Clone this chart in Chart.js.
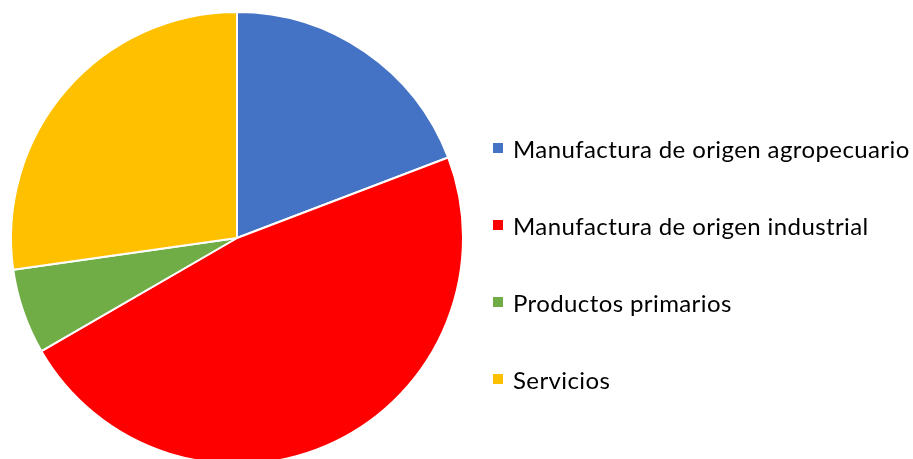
<!DOCTYPE html>
<html>
<head>
<meta charset="utf-8">
<script src="https://cdn.jsdelivr.net/npm/chart.js@4.4.1/dist/chart.umd.min.js"></script>
<style>
  html, body { margin: 0; padding: 0; background: #fff; overflow: hidden; width: 913px; height: 459px; }
  #wrap { position: absolute; left: 0; top: 0; width: 913px; height: 480px; }
  #legend { position: absolute; left: 493px; top: 0; font-family: "Lato", sans-serif; font-size: 24px; letter-spacing: 0.4px; color: #000; }
  .item { position: absolute; left: 0; white-space: nowrap; display: flex; align-items: center; height: 30px; }
  .box { width: 10px; height: 10px; margin-right: 10px; }
</style>
</head>
<body>
<div id="wrap"><canvas id="c" width="913" height="480"></canvas></div>
<div id="legend"></div>
<script>
const categories = [
  "Manufactura de origen agropecuario",
  "Manufactura de origen industrial",
  "Productos primarios",
  "Servicios"
];
const shares = [19.2, 47.45, 6.1, 27.25];
const colors = ["#4472C4", "#FF0000", "#70AD47", "#FFC000"];

new Chart(document.getElementById("c"), {
  type: "pie",
  data: {
    labels: categories,
    datasets: [{
      data: shares,
      backgroundColor: colors,
      borderColor: "#ffffff",
      borderWidth: 2
    }]
  },
  options: {
    responsive: false,
    animation: false,
    devicePixelRatio: 1,
    layout: { padding: { left: 10, top: 11, right: 449, bottom: 15 } },
    plugins: {
      legend: { display: false },
      tooltip: { enabled: false }
    }
  }
});

const legend = document.getElementById("legend");
const rowCenters = [148, 225, 302, 379];
categories.forEach((name, i) => {
  const row = document.createElement("div");
  row.className = "item";
  row.style.top = (rowCenters[i] - 15) + "px";
  const box = document.createElement("span");
  box.className = "box";
  box.style.background = colors[i];
  const txt = document.createElement("span");
  txt.textContent = name;
  row.appendChild(box);
  row.appendChild(txt);
  legend.appendChild(row);
});
</script>
</body>
</html>
